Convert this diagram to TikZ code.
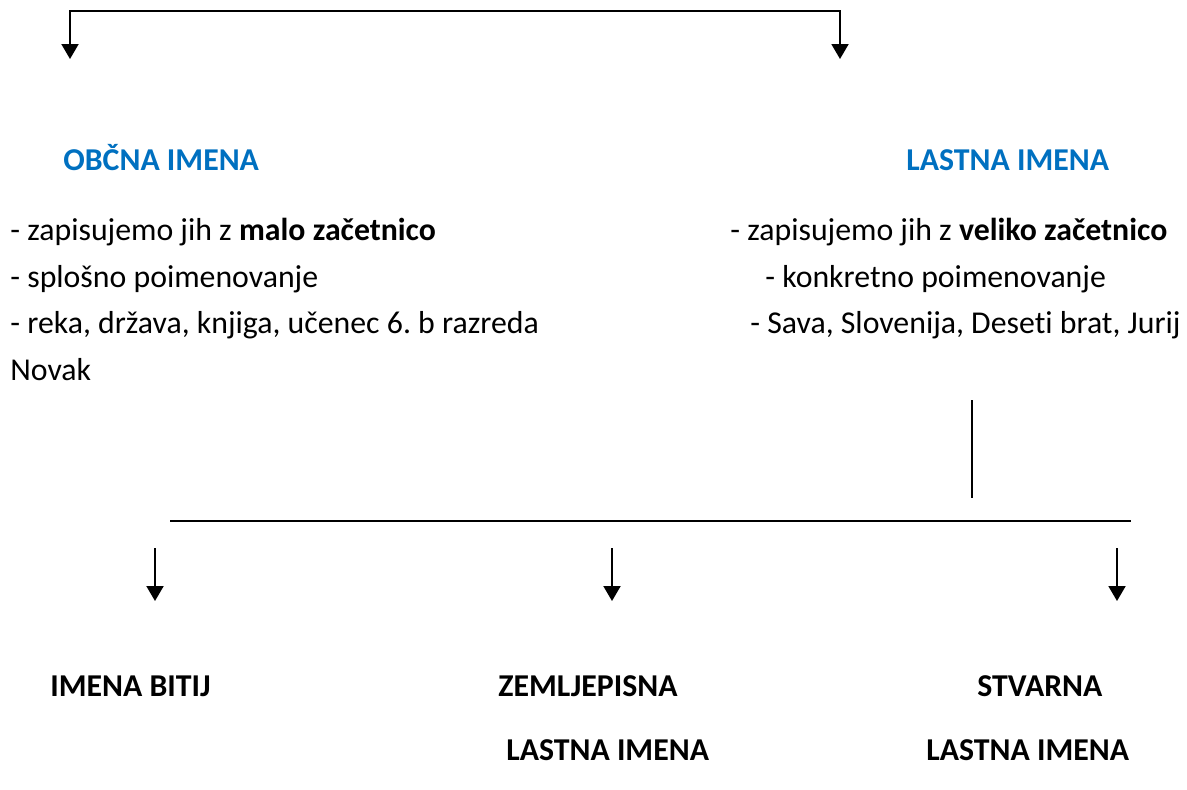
\documentclass[tikz,border=0pt]{standalone}
\usepackage{fontspec}
\setmainfont{Carlito}[Ligatures=NoCommon]
\usetikzlibrary{arrows.meta}
\definecolor{wordblue}{RGB}{0,112,192}
\tikzset{
  txt/.style={anchor=base west, inner sep=0pt, font=\fontsize{15.9}{19}\selectfont},
  head/.style={txt, font=\fontsize{15.9}{19}\selectfont\bfseries},
  arr/.style={line width=1pt, -{Triangle[length=7.5pt,width=8.5pt]}},
}
\frenchspacing
\begin{document}
\begin{tikzpicture}[x=0.5pt,y=0.5pt,yscale=-1,xscale=1]
\useasboundingbox (0,0) rectangle (1187,789);

%Straight Lines: top bracket
\coordinate (tl) at (70,11);
\coordinate (tr) at (840,11);
\coordinate (tlend) at (70,59);
\coordinate (trend) at (840,59);
\draw [line width=1pt] (tlend |- 0,30) -- (tl) -- (tr) -- (trend |- 0,30);
\draw [arr] (70,28) -- (tlend);
\draw [arr] (840,28) -- (trend);

% Text Node
\node [head, text=wordblue] (obcna) at (63,170) {OBČNA IMENA};
\node [head, text=wordblue] (lastna) at (906,170) {LASTNA IMENA};
% Text Node
\node [txt] (l1) at (10,240) {- zapisujemo jih z \textbf{malo začetnico}};
\node [txt] (l2) at (10,287) {- splošno poimenovanje};
\node [txt] (l3) at (10,333) {- reka, država, knjiga, učenec 6. b razreda};
\node [txt] (l4) at (10,380) {Novak};
% Text Node
\node [txt] (r1) at (730,240) {- zapisujemo jih z \textbf{veliko začetnico}};
\node [txt] (r2) at (765,287) {- konkretno poimenovanje};
\node [txt] (r3) at (750,333) {- Sava, Slovenija, Deseti brat, Jurij};

%Straight Lines: lower bracket
\coordinate (vtop) at (972,400);
\coordinate (vbot) at (972,498);
\coordinate (hl) at (170,521);
\coordinate (hr) at (1131,521);
\draw [line width=0.8pt] (vtop) -- (vbot);
\draw [line width=0.8pt] (hl) -- (hr);
\foreach \x/\n in {155/a, 612/b, 1117/c} {
  \coordinate (s\n) at (\x,548);
  \coordinate (e\n) at (\x,601);
  \draw [arr] (s\n) -- (e\n);
}

% Text Node
\node [head] (bitij) at (50,696) {IMENA BITIJ};
\node [head] (zemlj) at (498,696) {ZEMLJEPISNA};
\node [head] (stvar) at (977,696) {STVARNA};
\node [head] (zemlj2) at (506,760) {LASTNA IMENA};
\node [head] (stvar2) at (926,760) {LASTNA IMENA};

\end{tikzpicture}
\end{document}
